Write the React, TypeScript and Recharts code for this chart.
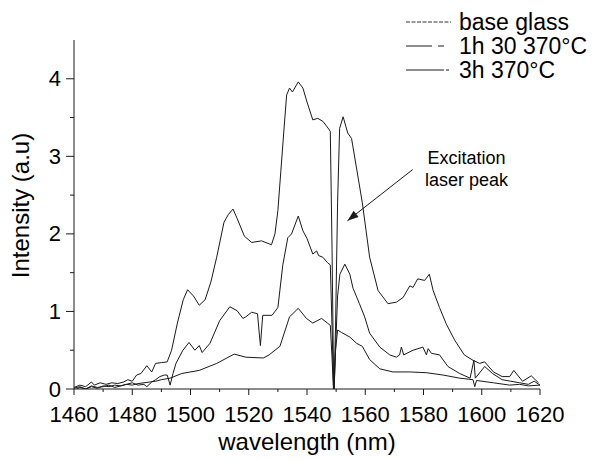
import React from 'react';
import {
  LineChart, Line, XAxis, YAxis, Legend, ReferenceLine, ReferenceDot,
} from 'recharts';

// Emission spectra: wavelength (nm) and intensity (a.u) per sample
const BASE_NM = [1460, 1462, 1464, 1466, 1468, 1470, 1472, 1474, 1476, 1478, 1480, 1482, 1484, 1486, 1488, 1490, 1493, 1497, 1503, 1509, 1515, 1519, 1525, 1527, 1530.7, 1534, 1537, 1539.8, 1542, 1545, 1547, 1548, 1548.6, 1549.2, 1549.8, 1550.5, 1551.8, 1554.7, 1557, 1559, 1561.5, 1565, 1569.5, 1575.3, 1581, 1586.7, 1592.4, 1597, 1597.6, 1598.2, 1604, 1609.6, 1613, 1616, 1620];
const BASE_INT = [-0.02, 0.02, 0.0, 0.03, 0.01, 0.04, 0.03, 0.05, 0.04, 0.06, 0.05, 0.07, 0.08, 0.09, 0.1, 0.12, 0.14, 0.2, 0.24, 0.33, 0.45, 0.41, 0.4, 0.44, 0.55, 0.93, 1.04, 0.91, 0.85, 0.91, 0.85, 0.82, 0.4, -0.1, 0.5, 0.76, 0.73, 0.67, 0.59, 0.55, 0.38, 0.26, 0.22, 0.22, 0.21, 0.18, 0.14, 0.12, 0.03, 0.11, 0.08, 0.05, 0.06, 0.04, 0.05];

const H130_NM = [1460, 1462, 1464, 1466, 1468, 1470, 1472, 1474, 1476, 1478, 1480, 1482, 1484, 1485, 1486.7, 1488, 1489.5, 1491, 1492, 1493, 1494, 1495, 1497.4, 1499.5, 1501.5, 1503, 1504, 1506.7, 1510, 1513.5, 1516, 1518, 1519, 1521, 1523, 1524, 1524.8, 1528, 1530, 1531.7, 1533.4, 1534.7, 1537, 1538.6, 1540, 1542, 1543.3, 1544, 1545.4, 1547, 1548, 1548.6, 1549.2, 1549.8, 1550.5, 1551.3, 1553, 1554.7, 1555.8, 1558, 1559.8, 1561.5, 1565, 1568.4, 1570.7, 1571.8, 1572.4, 1573.2, 1576.4, 1579.8, 1581, 1581.6, 1582.7, 1585.5, 1588.4, 1592.4, 1596, 1597.3, 1597.8, 1601, 1603.7, 1607, 1610, 1613, 1616, 1618, 1620];
const H130_INT = [0.01, 0.03, 0.0, 0.04, 0.02, 0.03, 0.05, 0.02, 0.04, 0.06, 0.08, 0.05, 0.06, 0.03, 0.09, 0.12, 0.16, 0.18, 0.18, 0.05, 0.2, 0.33, 0.5, 0.6, 0.5, 0.56, 0.47, 0.59, 0.88, 1.06, 1.01, 0.91, 0.93, 0.99, 0.97, 0.56, 0.95, 0.95, 1.05, 1.6, 1.95, 2.0, 2.23, 2.04, 1.94, 1.74, 1.78, 1.72, 1.7, 1.63, 1.6, 0.8, -0.1, 0.5, 1.2, 1.48, 1.61, 1.48, 1.3, 1.1, 0.93, 0.72, 0.54, 0.44, 0.41, 0.44, 0.54, 0.44, 0.5, 0.54, 0.44, 0.52, 0.46, 0.44, 0.29, 0.2, 0.14, 0.37, 0.14, 0.29, 0.2, 0.12, 0.1, 0.08, 0.06, 0.1, 0.05];

const H3_NM = [1460, 1462, 1464, 1466, 1467, 1469, 1471, 1473, 1475, 1477, 1478.5, 1480, 1481.5, 1483, 1485, 1486.7, 1488, 1490, 1492, 1493.5, 1495.5, 1497.5, 1499, 1501, 1503, 1505, 1507, 1509, 1511.5, 1513, 1514.6, 1516, 1518.5, 1521, 1524.4, 1527.8, 1529, 1530, 1531, 1532, 1533, 1534, 1535, 1537, 1538.6, 1540, 1542, 1543.7, 1545.5, 1547.5, 1548, 1548.6, 1549.2, 1549.8, 1550.5, 1551.2, 1552.4, 1554, 1555.3, 1557, 1559, 1561.5, 1564.4, 1567.8, 1570.7, 1573, 1575.3, 1576.4, 1578, 1580.4, 1582, 1583.3, 1585.5, 1587.8, 1590.7, 1594, 1597, 1599.3, 1601, 1604, 1607, 1609.6, 1611, 1614, 1617, 1619.5];
const H3_INT = [0.02, 0.05, 0.03, 0.09, 0.05, 0.08, 0.06, 0.08, 0.07, 0.09, 0.12, 0.1, 0.18, 0.2, 0.3, 0.22, 0.33, 0.34, 0.35, 0.5, 0.85, 1.15, 1.28, 1.2, 1.08, 1.15, 1.38, 1.7, 2.15, 2.25, 2.32, 2.2, 1.97, 1.89, 1.91, 1.86, 2.0, 2.3, 2.8, 3.3, 3.79, 3.88, 3.83, 3.96, 3.88, 3.7, 3.47, 3.49, 3.45, 3.35, 3.32, 1.8, -0.1, 0.8, 2.4, 3.36, 3.51, 3.3, 3.23, 2.85, 2.4, 1.7, 1.27, 1.1, 1.12, 1.18, 1.33, 1.31, 1.42, 1.4, 1.48, 1.27, 1.05, 0.84, 0.63, 0.44, 0.37, 0.33, 0.35, 0.22, 0.16, 0.16, 0.24, 0.1, 0.17, 0.08];

const SERIES_NAMES = ['base glass', '1h 30 370°C', '3h 370°C'];
const LEGEND_DASH = ['4 1.5', '26 6 6 100', '38 2 3 100'];

const X_TICKS = [1460, 1470, 1480, 1490, 1500, 1510, 1520, 1530, 1540, 1550, 1560, 1570, 1580, 1590, 1600, 1610, 1620];
const X_LABELS = [1460, 1480, 1500, 1520, 1540, 1560, 1580, 1600, 1620];
const Y_TICKS = [0, 0.5, 1, 1.5, 2, 2.5, 3, 3.5, 4];
const Y_LABELS = [0, 1, 2, 3, 4];

// laser annotation: arrow tail/head and text anchor in data units
const ARROW_FROM = { nm: 1576.3, v: 2.83 };
const ARROW_TO = { nm: 1553.9, v: 2.17 };
const NOTE_AT = { nm: 1594.8, v: 2.9 };
const NOTE_LINES = ['Excitation', 'laser peak'];

const FONT = '"Liberation Sans", Arial, sans-serif';
const INK = '#1a1a1a';

const rows = (nm: number[], v: number[]) => nm.map((x, i) => ({ nm: x, v: v[i] }));
const baseData = rows(BASE_NM, BASE_INT);
const h130Data = rows(H130_NM, H130_INT);
const h3Data = rows(H3_NM, H3_INT);

const XTick = ({ x, y, payload }: any) => {
  const major = X_LABELS.includes(payload.value);
  return (
    <g>
      <line x1={x} x2={x} y1={y} y2={y + (major ? 6 : 3)} stroke={INK} />
      {major && (
        <text x={x} y={y + 33} textAnchor="middle" fontSize={22} fontFamily={FONT} fill="#000">
          {payload.value}
        </text>
      )}
    </g>
  );
};

const YTick = ({ x, y, payload }: any) => {
  const major = Y_LABELS.includes(payload.value);
  return (
    <g>
      <line x1={x - (major ? 8 : 4)} x2={x} y1={y} y2={y} stroke={INK} />
      {major && (
        <text x={x - 13} y={y + 7.5} textAnchor="end" fontSize={22} fontFamily={FONT} fill="#000">
          {payload.value}
        </text>
      )}
    </g>
  );
};

const LegendBox = () => (
  <div style={{ fontFamily: FONT, fontSize: 23, lineHeight: '24px', color: '#000' }}>
    {SERIES_NAMES.map((name, i) => (
      <div key={name} style={{ display: 'flex', alignItems: 'center', whiteSpace: 'nowrap' }}>
        <svg width={50} height={24}>
          <line x1={2} x2={47} y1={12} y2={12} stroke={i === 0 ? '#333' : INK} strokeDasharray={LEGEND_DASH[i]} />
        </svg>
        <span style={{ marginLeft: 5 }}>{name}</span>
      </div>
    ))}
  </div>
);

const ArrowHead = ({ cx, cy }: any) => {
  const dx = -66;
  const dy = 52;
  const len = Math.hypot(dx, dy);
  const ux = dx / len;
  const uy = dy / len;
  const bx = cx - ux * 11;
  const by = cy - uy * 11;
  const pts = `${cx},${cy} ${bx - uy * 4},${by + ux * 4} ${bx + uy * 4},${by - ux * 4}`;
  return <polygon points={pts} fill={INK} />;
};

const Note = ({ cx, cy }: any) => (
  <g>
    {NOTE_LINES.map((t, i) => (
      <text key={t} x={cx} y={cy + i * 22} textAnchor="middle" fontSize={18} fontFamily={FONT} fill="#000">
        {t}
      </text>
    ))}
  </g>
);

const App = () => (
  <div style={{ position: 'absolute', left: 0, top: 0, background: '#fff' }}>
    <LineChart width={597} height={460} margin={{ top: 40, right: 57, bottom: 0, left: 0 }}>
      <XAxis
        type="number"
        dataKey="nm"
        domain={[1460, 1620]}
        ticks={X_TICKS}
        interval={0}
        allowDataOverflow
        height={71}
        tickSize={0}
        tickMargin={0}
        tickLine={false}
        tick={<XTick />}
        stroke={INK}
        label={{
          content: ({ viewBox }: any) => (
            <text x={viewBox.x + viewBox.width / 2} y={viewBox.y + 61} textAnchor="middle" fontSize={24} fontFamily={FONT} fill="#000">
              wavelength (nm)
            </text>
          ),
        }}
      />
      <YAxis
        type="number"
        domain={[0, 4.5]}
        ticks={Y_TICKS}
        interval={0}
        allowDataOverflow
        width={74}
        tickSize={0}
        tickMargin={0}
        tickLine={false}
        tick={<YTick />}
        stroke={INK}
        label={{
          content: ({ viewBox }: any) => {
            const cx = viewBox.x + 20;
            const cy = viewBox.y + viewBox.height / 2 - 9;
            return (
              <text x={cx} y={cy} transform={`rotate(-90 ${cx} ${cy})`} textAnchor="middle" dominantBaseline="central" fontSize={24} fontFamily={FONT} fill="#000">
                Intensity (a.u)
              </text>
            );
          },
        }}
      />
      <Legend
        layout="horizontal"
        verticalAlign="middle"
        align="center"
        content={<LegendBox />}
        wrapperStyle={{ left: 404, top: 10, width: 'auto', height: 'auto' }}
      />
      <Line data={baseData} dataKey="v" name={SERIES_NAMES[0]} type="linear" stroke={INK} strokeWidth={1} dot={false} isAnimationActive={false} />
      <Line data={h130Data} dataKey="v" name={SERIES_NAMES[1]} type="linear" stroke={INK} strokeWidth={1} dot={false} isAnimationActive={false} />
      <Line data={h3Data} dataKey="v" name={SERIES_NAMES[2]} type="linear" stroke={INK} strokeWidth={1} dot={false} isAnimationActive={false} />
      <ReferenceLine
        segment={[{ x: ARROW_FROM.nm, y: ARROW_FROM.v }, { x: ARROW_TO.nm, y: ARROW_TO.v }]}
        stroke={INK}
        strokeWidth={1}
        ifOverflow="visible"
      />
      <ReferenceDot x={ARROW_TO.nm} y={ARROW_TO.v} r={0} shape={<ArrowHead />} ifOverflow="visible" />
      <ReferenceDot x={NOTE_AT.nm} y={NOTE_AT.v} r={0} shape={<Note />} ifOverflow="visible" />
    </LineChart>
  </div>
);

export default App;
